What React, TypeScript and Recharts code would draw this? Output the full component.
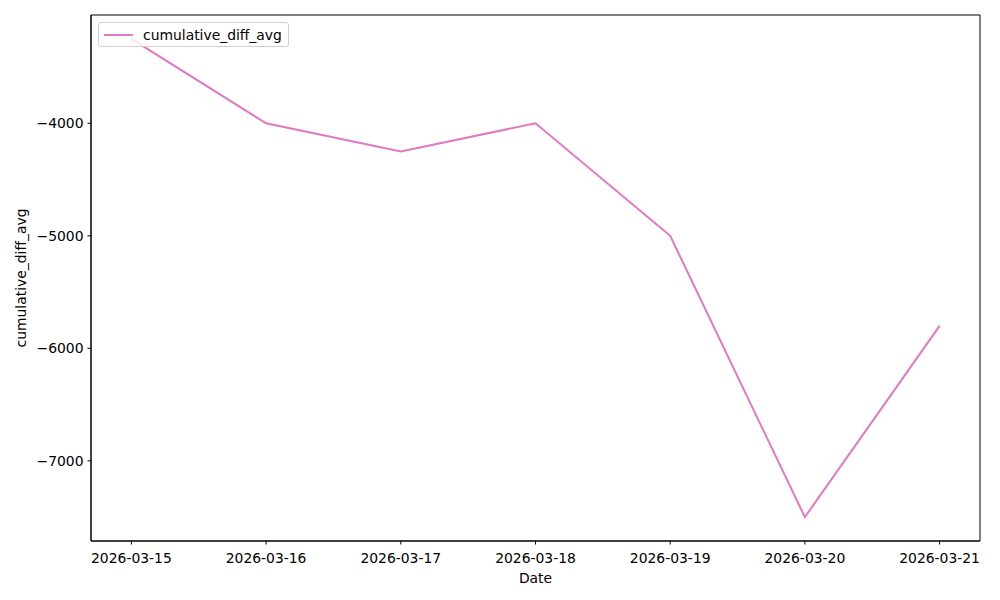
import { LineChart, Line, XAxis, YAxis, ReferenceArea } from 'recharts';

const dates = ['2026-03-15', '2026-03-16', '2026-03-17', '2026-03-18', '2026-03-19', '2026-03-20', '2026-03-21'];
const cumulativeDiffAvg = [-3250, -4000, -4250, -4000, -5000, -7500, -5800];
const yTicks = [-7000, -6000, -5000, -4000];

const data = dates.map((d, i) => ({ idx: i, date: d, cumulative_diff_avg: cumulativeDiffAvg[i] }));

const font = '"DejaVu Sans", sans-serif';
const lineColor = '#e377c2';

// matplotlib-style 5% margins
const yMin = Math.min(...cumulativeDiffAvg);
const yMax = Math.max(...cumulativeDiffAvg);
const yPad = (yMax - yMin) * 0.05;
const yDomain: [number, number] = [yMin - yPad, yMax + yPad];
const xPad = (dates.length - 1) * 0.05;
const xDomain: [number, number] = [-xPad, dates.length - 1 + xPad];

const fmtMinus = (v: number) => String(v).replace('-', '\u2212');

function YLabel({ viewBox }: any) {
  const cx = 21;
  const cy = viewBox.y + viewBox.height / 2;
  return (
    <text x={cx} y={cy} transform={`rotate(-90 ${cx} ${cy})`} textAnchor="middle" dominantBaseline="central"
      fontFamily={font} fontSize={13.9} fill="#000">
      cumulative_diff_avg
    </text>
  );
}

function LegendBox() {
  return (
    <div style={{
      position: 'absolute', left: 98, top: 22, height: 25, boxSizing: 'border-box',
      display: 'flex', alignItems: 'center', border: '1px solid #d0d0d0', borderRadius: 3,
      background: 'rgba(255,255,255,0.8)', padding: '0 6px 0 5px', fontFamily: font, fontSize: 13.9, color: '#000',
    }}>
      <span style={{ display: 'inline-block', width: 29, height: 2, background: lineColor, marginRight: 10 }} />
      <span>cumulative_diff_avg</span>
    </div>
  );
}

export default function App() {
  return (
    <div style={{ position: 'absolute', left: 0, top: 0, width: 1000, height: 600, background: '#fff' }}>
      <LineChart width={1000} height={600} data={data} margin={{ top: 15, right: 20, bottom: 0, left: 0 }}>
        <XAxis
          dataKey="idx"
          type="number"
          domain={xDomain}
          ticks={dates.map((_, i) => i)}
          tickFormatter={(v: number) => dates[v]}
          height={59}
          tickSize={3.5}
          tickMargin={9}
          stroke="#000"
          tick={{ fill: '#000', fontFamily: font, fontSize: 13.9 }}
          tickLine={{ stroke: '#000' }}
          axisLine={{ stroke: '#000' }}
          interval={0}
          allowDataOverflow
          label={{ value: 'Date', position: 'insideBottom', offset: 17, fill: '#000', fontFamily: font, fontSize: 13.9 }}
        />
        <YAxis
          type="number"
          domain={yDomain}
          ticks={yTicks}
          tickFormatter={fmtMinus}
          width={91}
          tickSize={3.5}
          tickMargin={4}
          stroke="#000"
          tick={{ fill: '#000', fontFamily: font, fontSize: 13.9 }}
          tickLine={{ stroke: '#000' }}
          axisLine={{ stroke: '#000' }}
          allowDataOverflow
          label={<YLabel />}
        />
        <ReferenceArea x1={xDomain[0]} x2={xDomain[1]} y1={yDomain[0]} y2={yDomain[1]} fill="none" stroke="#000" strokeWidth={1} fillOpacity={0} />
        <Line
          type="linear"
          dataKey="cumulative_diff_avg"
          stroke={lineColor}
          strokeWidth={2}
          dot={false}
          isAnimationActive={false}
        />
      </LineChart>
      <LegendBox />
    </div>
  );
}
